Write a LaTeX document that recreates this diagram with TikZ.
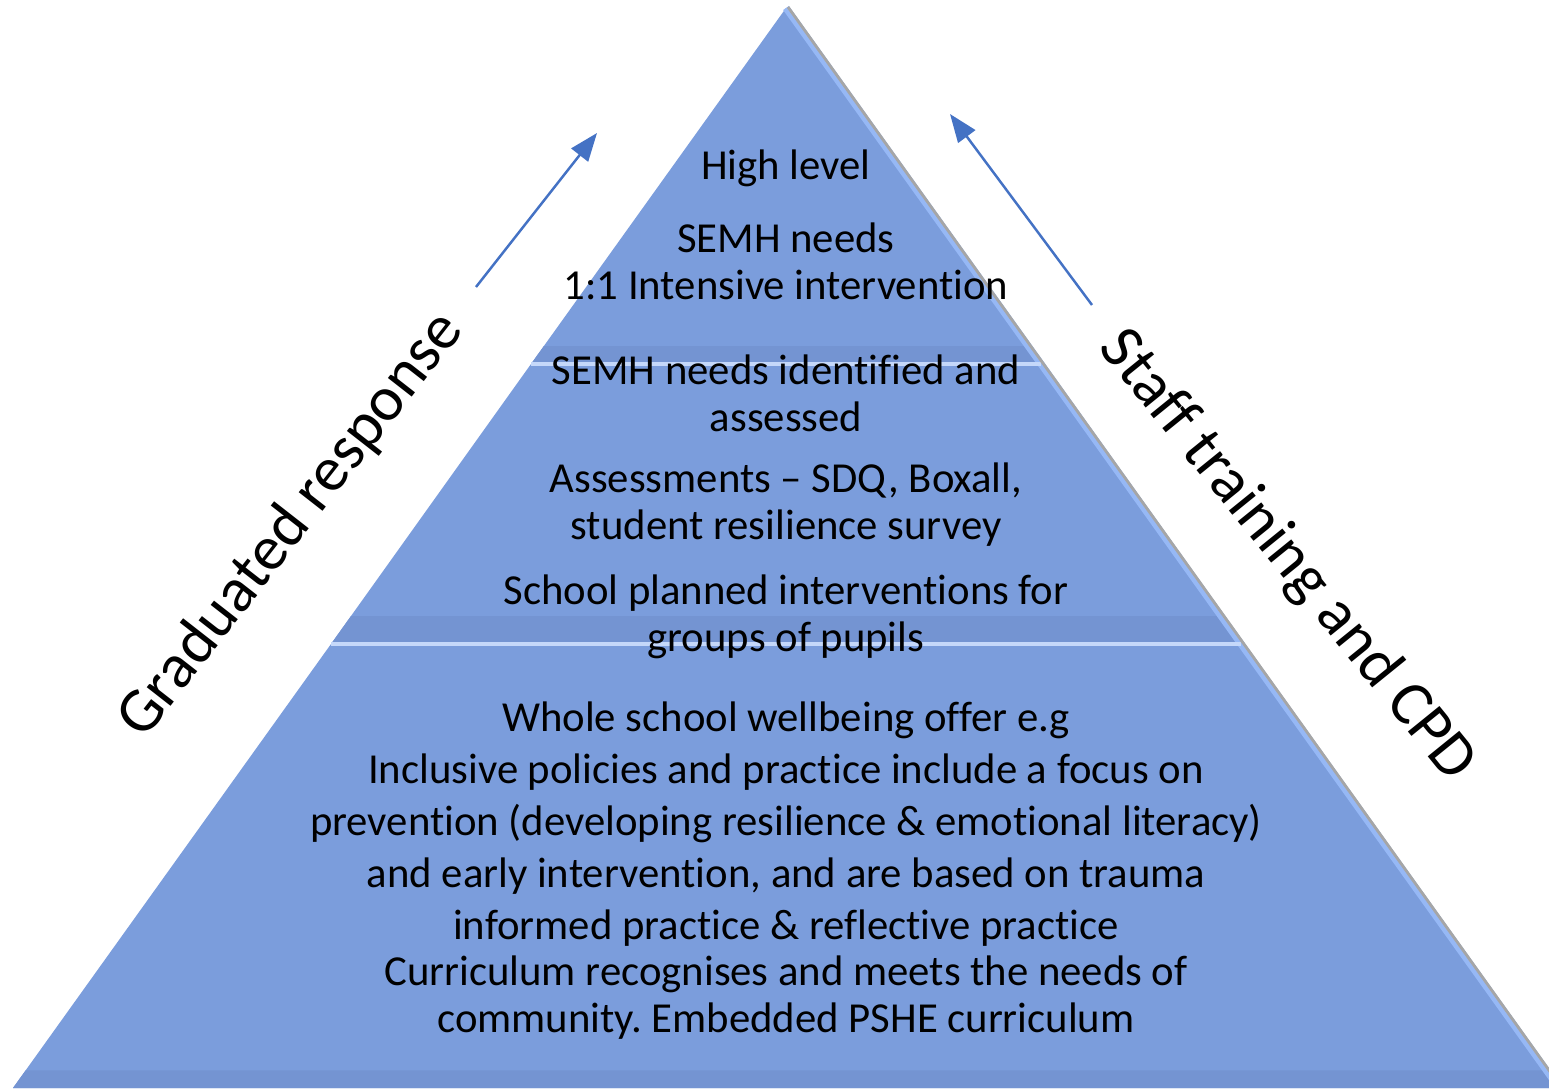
\documentclass[tikz,border=0pt]{standalone}
\usepackage{fontspec}
\setmainfont{Carlito}[Ligatures=CommonOff]
\usetikzlibrary{arrows.meta,calc}
\definecolor{pyrblue}{RGB}{123,157,220}
\definecolor{pyrdark}{RGB}{116,148,210}
\definecolor{pyrlight}{RGB}{150,184,245}
\definecolor{arrowblue}{RGB}{68,114,196}
\frenchspacing

\begin{document}
\begin{tikzpicture}[x=0.01cm, y=-0.01cm,
        every node/.style={font=\fontsize{12.15}{13.4}\selectfont, align=center},
        tier/.style={fill=pyrblue, draw=none},
        rim/.style={draw=pyrlight!55!white, line width=1.2pt},
        side/.style={font=\fontsize{18}{21}\selectfont},
        trend/.style={-{Triangle[length=8pt,width=6pt]}, draw=arrowblue, line width=0.7pt}]
    \useasboundingbox (0,0) rectangle (1549,1088);
    % pyramid corners
    \coordinate (apex) at (786,8);
    \coordinate (L1) at (531,364);  \coordinate (R1) at (1041,364);
    \coordinate (L2) at (331,644);  \coordinate (R2) at (1241,644);
    \coordinate (L3) at (13,1088);  \coordinate (R3) at (1559,1088);
    \begin{scope}
        \clip (0,0) rectangle (1549,1088);
        \fill[tier] (apex) -- (L1) -- (R1) -- cycle;
        \fill[tier] (L1) -- (L2) -- (R2) -- (R1) -- cycle;
        \fill[tier] (L2) -- (L3) -- (R3) -- (R2) -- cycle;
        % shaded bands and bevels
        \fill[pyrdark] ($(L1)!0.9!(L2)$) -- (L2) -- (R2) -- ($(R1)!0.9!(R2)$) -- cycle;
        \fill[pyrdark] ($(L2)!0.96!(L3)$) -- (L3) -- (R3) -- ($(R2)!0.96!(R3)$) -- cycle;
        \fill[pyrdark] ($(apex)!0.95!(L1)$) -- (L1) -- (R1) -- ($(apex)!0.95!(R1)$) -- cycle;
        \draw[pyrlight, line width=2pt] (apex) -- (R1) (R1) -- (R2) (R2) -- (R3);
        \draw[rim] (L1) -- (R1);
        \draw[rim] (L2) -- (R2);
        \draw[gray!70, line width=0.8pt] ($(apex)+(2,-1)$) -- ($(R3)+(2,-1)$);
    \end{scope}
    % tier texts
    \node (top1) at (786,168) {High level};
    \node (top2) at (786,261) {SEMH needs\\1:1 Intensive intervention};
    \node (mid1) at (786,393) {SEMH needs identified and\\assessed};
    \node (mid2) at (786,505) {Assessments -- SDQ, Boxall,\\student resilience survey};
    \node (mid3) at (786,617) {School planned interventions for\\groups of pupils};
    \node[font=\fontsize{12.15}{14.8}\selectfont] (base1) at (786,824) {Whole school wellbeing offer e.g\\Inclusive policies and practice include a focus on\\prevention (developing resilience \& emotional literacy)\\and early intervention, and are based on trauma\\informed practice \& reflective practice};
    \node (base2) at (786,998) {Curriculum recognises and meets the needs of\\community. Embedded PSHE curriculum};
    % side labels
    \node[side, rotate=52] (grad) at (291,525) {Graduated response};
    \node[side, rotate=-51] (staff) at (1287,556) {Staff training and CPD};
    \coordinate (gradtail) at (476,287);
    \coordinate (gradhead) at (597,133);
    \coordinate (stafftail) at (1092,305);
    \coordinate (staffhead) at (950,114);
    \draw[trend] (gradtail) -- (gradhead);
    \draw[trend] (stafftail) -- (staffhead);
\end{tikzpicture}
\end{document}
